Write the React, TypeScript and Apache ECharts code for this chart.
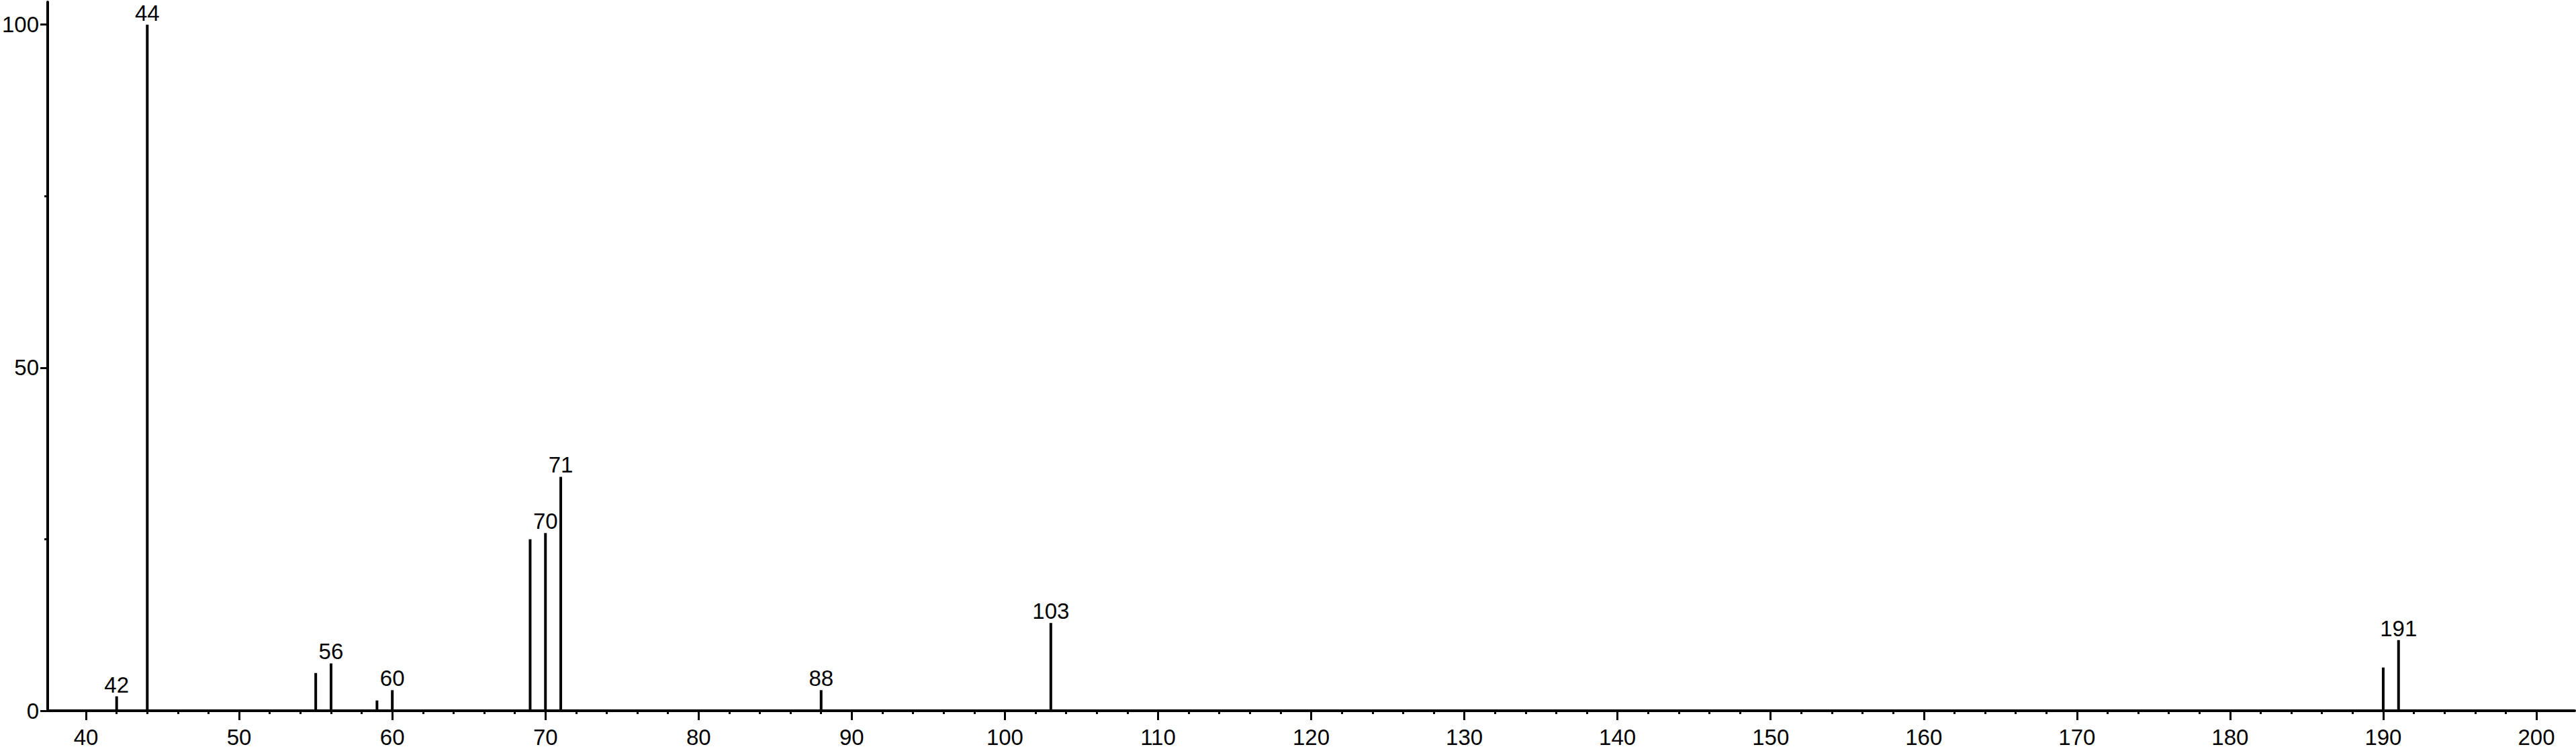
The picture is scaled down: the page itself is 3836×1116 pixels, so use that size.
import React, { useEffect, useRef } from "react";
import * as echarts from "echarts";

// m/z values and relative intensities (%)
const mz: number[] = [42, 44, 55, 56, 59, 60, 69, 70, 71, 88, 103, 190, 191];
const intensity: number[] = [2.1, 100, 5.5, 6.9, 1.5, 3.0, 25.0, 25.9, 34.1, 3.0, 12.8, 6.3, 10.3];
const labeledPeaks: number[] = [42, 44, 56, 60, 70, 71, 88, 103, 191];

// axis tick values
const xMajorTicks: number[] = [40, 50, 60, 70, 80, 90, 100, 110, 120, 130, 140, 150, 160, 170, 180, 190, 200];
const xMinorTicks: number[] = [];
for (let v = 42; v <= 198; v += 2) {
  if (v % 10 !== 0) xMinorTicks.push(v);
}
const yMajorTicks: number[] = [0, 50, 100];
const yMinorTicks: number[] = [25, 75];

const X_MIN = 37.5;
const X_MAX = 202.5;
const Y_MIN = 0;
const Y_MAX = 103.3;

const FONT = "Liberation Sans, Arial, Helvetica, sans-serif";

export default function App() {
  const ref = useRef<HTMLDivElement>(null);

  useEffect(() => {
    document.body.style.margin = "0";
    if (!ref.current) return;
    const chart = echarts.init(ref.current, undefined, { renderer: "svg" });

    const seriesData = mz.map((x, i) => {
      const item: any = { value: [x, intensity[i]] };
      if (labeledPeaks.indexOf(x) >= 0) {
        item.label = { show: true };
      }
      return item;
    });

    const option: any = {
      animation: false,
      backgroundColor: "#ffffff",
      grid: { left: 69, right: 2, top: 3, bottom: 57, containLabel: false },
      xAxis: [
        {
          type: "value",
          position: "bottom",
          min: X_MIN,
          max: X_MAX,
          axisLine: { show: true, onZero: false, lineStyle: { color: "#000", width: 4 } },
          axisTick: {
            show: true,
            inside: false,
            length: 14,
            customValues: xMajorTicks,
            lineStyle: { color: "#000", width: 3 },
          },
          axisLabel: {
            show: true,
            customValues: xMajorTicks,
            margin: 23,
            color: "#000",
            fontSize: 33,
            fontFamily: FONT,
          },
          splitLine: { show: false },
        },
        {
          type: "value",
          position: "bottom",
          min: X_MIN,
          max: X_MAX,
          axisLine: { show: false, onZero: false },
          axisTick: {
            show: true,
            inside: false,
            length: 5,
            customValues: xMinorTicks,
            lineStyle: { color: "#000", width: 3 },
          },
          axisLabel: { show: false },
          splitLine: { show: false },
        },
      ],
      yAxis: [
        {
          type: "value",
          position: "left",
          min: Y_MIN,
          max: Y_MAX,
          axisLine: { show: true, onZero: false, lineStyle: { color: "#000", width: 4 } },
          axisTick: {
            show: true,
            inside: false,
            length: 11,
            customValues: yMajorTicks,
            lineStyle: { color: "#000", width: 3 },
          },
          axisLabel: {
            show: true,
            customValues: yMajorTicks,
            margin: 13,
            color: "#000",
            fontSize: 33,
            fontFamily: FONT,
          },
          splitLine: { show: false },
        },
        {
          type: "value",
          position: "left",
          min: Y_MIN,
          max: Y_MAX,
          axisLine: { show: false, onZero: false },
          axisTick: {
            show: true,
            inside: false,
            length: 5,
            customValues: yMinorTicks,
            lineStyle: { color: "#000", width: 3 },
          },
          axisLabel: { show: false },
          splitLine: { show: false },
        },
      ],
      series: [
        {
          type: "bar",
          xAxisIndex: 0,
          yAxisIndex: 0,
          barWidth: 4,
          itemStyle: { color: "#000" },
          label: {
            show: false,
            position: "top",
            distance: 1,
            color: "#000",
            fontSize: 33,
            fontFamily: FONT,
            formatter: (p: any) => String(p.value[0]),
          },
          data: seriesData,
        },
      ],
    };

    chart.setOption(option);
    return () => {
      chart.dispose();
    };
  }, []);

  return (
    <div
      ref={ref}
      style={{ position: "absolute", left: 0, top: 0, width: 3836, height: 1116 }}
    />
  );
}
